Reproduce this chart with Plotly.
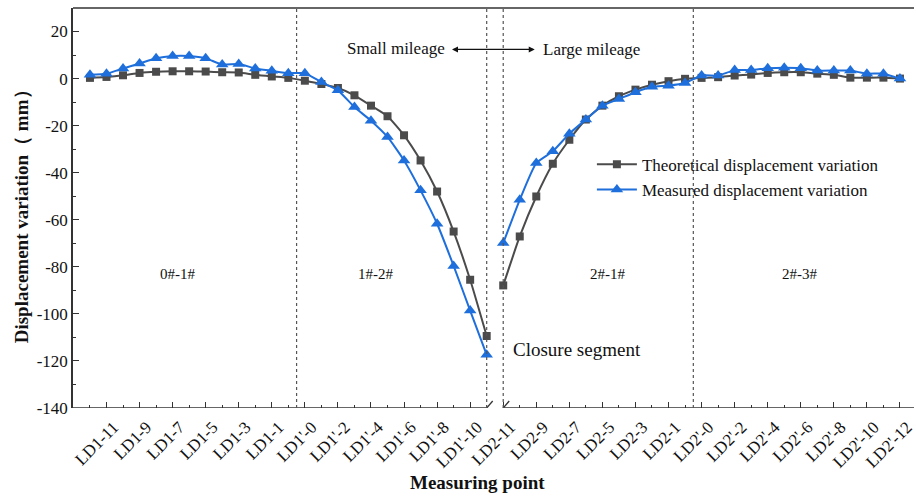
import plotly.graph_objects as go

# ---------------- data ----------------
points = ["LD1-12", "LD1-11", "LD1-10", "LD1-9", "LD1-8", "LD1-7", "LD1-6", "LD1-5", "LD1-4",
          "LD1-3", "LD1-2", "LD1-1", "LD1-0",
          "LD1'-0", "LD1'-1", "LD1'-2", "LD1'-3", "LD1'-4", "LD1'-5", "LD1'-6", "LD1'-7",
          "LD1'-8", "LD1'-9", "LD1'-10", "LD1'-11",
          "LD2-11", "LD2-10", "LD2-9", "LD2-8", "LD2-7", "LD2-6", "LD2-5", "LD2-4", "LD2-3",
          "LD2-2", "LD2-1", "LD2-0",
          "LD2'-0", "LD2'-1", "LD2'-2", "LD2'-3", "LD2'-4", "LD2'-5", "LD2'-6", "LD2'-7",
          "LD2'-8", "LD2'-9", "LD2'-10", "LD2'-11", "LD2'-12"]
n_left = 25  # points before the axis break (closure segment)

theoretical = [0.3, 0.7, 1.4, 2.4, 2.9, 3.1, 3.1, 3.0, 2.7, 2.6, 1.6, 0.9, 0.3,
               -0.9, -2.3, -4.0, -7.1, -11.5, -16.0, -24.1, -34.8, -48.0, -65.0, -85.5, -109.4,
               -87.9, -67.1, -50.1, -36.2, -26.0, -17.4, -11.5, -7.5, -4.7, -2.6, -1.1, -0.1,
               0.3, 0.6, 1.3, 1.7, 2.4, 2.7, 2.7, 2.1, 1.6, 0.4, 0.4, 0.4, 0.0]
measured = [1.6, 2.1, 4.3, 6.4, 8.6, 9.6, 9.6, 8.6, 6.0, 6.2, 4.3, 3.3, 2.3,
            2.3, -1.5, -5.0, -12.1, -17.9, -24.8, -34.8, -47.5, -61.7, -79.6, -98.6, -117.4,
            -69.9, -51.5, -35.9, -30.9, -23.4, -17.4, -11.5, -8.7, -5.8, -3.5, -3.0, -1.9,
            1.3, 1.3, 3.6, 3.6, 4.4, 4.6, 4.4, 3.4, 3.4, 3.4, 2.1, 2.1, 0.0]

tick_labels = ["LD1-11", "LD1-9", "LD1-7", "LD1-5", "LD1-3", "LD1-1",
               "LD1'-0", "LD1'-2", "LD1'-4", "LD1'-6", "LD1'-8", "LD1'-10",
               "LD2-11", "LD2-9", "LD2-7", "LD2-5", "LD2-3", "LD2-1",
               "LD2'-0", "LD2'-2", "LD2'-4", "LD2'-6", "LD2'-8", "LD2'-10", "LD2'-12"]
y_ticks = [20, 0, -20, -40, -60, -80, -100, -120, -140]
y_tick_text = ["20", "0", "-20", "-40", "-60", "-80", "-100", "-120", "-140"]
y_minor = [30, 10, -10, -30, -50, -70, -90, -110, -130]

region_labels = ["0#-1#", "1#-2#", "2#-1#", "2#-3#"]
region_x = [5.3, 17.3, 31.3, 42.9]
region_bounds = [12.5, 36.5]

GRAY = "#4b4b4b"
BLUE = "#1e6fdc"
FONT = "Liberation Serif, Times New Roman, serif"

idx = list(range(len(points)))
pos = {p: i for i, p in enumerate(points)}
major_vals = [pos[t] for t in tick_labels]
minor_vals = [i for i in idx if i not in major_vals]
xr = [-1.026, 49.85]
yr = [-140, 30]

fig = go.Figure()
series = [("Theoretical displacement variation", theoretical, GRAY, "square", 8),
          ("Measured displacement variation", measured, BLUE, "triangle-up", 11)]
for name, vals, col, sym, sz in series:
    for k, (a, b) in enumerate([(0, n_left), (n_left, len(points))]):
        fig.add_trace(go.Scatter(
            x=idx[a:b], y=vals[a:b], mode="lines+markers", name=name,
            legendgroup=name, showlegend=(k == 0),
            line=dict(color=col, width=2, shape="spline", smoothing=0.5),
            marker=dict(symbol=sym, size=sz, color=col)))

shapes = []
shapes.append(dict(type="line", xref="paper", yref="paper", x0=0, x1=1, y0=1, y1=1,
                   line=dict(color="#333", width=1.5)))
brk_l, brk_r = n_left - 1, n_left
shapes.append(dict(type="line", xref="x", yref="y", x0=xr[0], x1=brk_l, y0=yr[0], y1=yr[0],
                   line=dict(color="#333", width=1.5)))
shapes.append(dict(type="line", xref="x", yref="y", x0=brk_r, x1=xr[1], y0=yr[0], y1=yr[0],
                   line=dict(color="#333", width=1.5)))
for bx in (brk_l, brk_r):
    shapes.append(dict(type="line", xref="x", yref="y", xsizemode="pixel", ysizemode="pixel",
                       xanchor=bx, yanchor=yr[0], x0=-6, x1=6, y0=-7, y1=7,
                       line=dict(color="#333", width=1.3)))
for bx in region_bounds + [brk_l, brk_r]:
    shapes.append(dict(type="line", xref="x", yref="paper", x0=bx, x1=bx, y0=0, y1=1,
                       line=dict(color="#555", width=1.2, dash="dot")))

annotations = []
for t, x in zip(region_labels, region_x):
    annotations.append(dict(x=x, y=-83, xref="x", yref="y", text=t, showarrow=False,
                            xanchor="center", yanchor="middle",
                            font=dict(family=FONT, size=15, color="#111")))
annotations += [
    dict(x=21.6, y=13.0, xref="x", yref="y", text="Small mileage", showarrow=False,
         xanchor="right", yanchor="middle", font=dict(family=FONT, size=17, color="#111")),
    dict(x=27.3, y=12.2, xref="x", yref="y", text="Large mileage", showarrow=False,
         xanchor="left", yanchor="middle", font=dict(family=FONT, size=17, color="#111")),
    dict(x=21.9, y=12.4, ax=27.0, ay=12.4, xref="x", yref="y", axref="x", ayref="y",
         text="", showarrow=True, arrowhead=2, arrowside="end+start", arrowsize=1,
         arrowwidth=1.2, arrowcolor="#111"),
    dict(x=25.45, y=-115.3, xref="x", yref="y", text="Closure segment", showarrow=False,
         xanchor="left", yanchor="middle", font=dict(family=FONT, size=19, color="#111")),
    dict(x=-0.0615, y=0.49, xref="paper", yref="paper",
         text="<b>Displacement variation（ mm）</b>", xanchor="center", yanchor="middle",
         textangle=-90, showarrow=False, font=dict(family=FONT, size=19, color="#111")),
    dict(x=0.481, y=-0.185, xref="paper", yref="paper", text="<b>Measuring point</b>",
         xanchor="center", yanchor="middle",
         showarrow=False, font=dict(family=FONT, size=19, color="#111")),
]

fig.update_layout(
    width=916, height=498,
    margin=dict(l=73, r=0, t=8, b=90),
    paper_bgcolor="white", plot_bgcolor="white",
    font=dict(family=FONT, size=16, color="#111"),
    shapes=shapes, annotations=annotations,
    legend=dict(x=0.617, y=0.653, xanchor="left", yanchor="top", bgcolor="rgba(0,0,0,0)",
                font=dict(family=FONT, size=17), itemwidth=40, tracegroupgap=0),
    xaxis=dict(range=xr, showgrid=False, zeroline=False, showline=False,
               tickmode="array", tickvals=major_vals, ticktext=tick_labels,
               tickangle=-45, ticks="inside", ticklen=6, tickwidth=1.2, tickcolor="#333",
               ticklabelshift=7, ticklabelstandoff=5, ticklabeloverflow="allow",
               minor=dict(tickmode="array", tickvals=minor_vals, ticks="inside",
                          ticklen=3, tickwidth=1.2, tickcolor="#333"),
               tickfont=dict(family=FONT, size=17)),
    yaxis=dict(range=yr, showgrid=False, zeroline=False, showline=True, linecolor="#333",
               linewidth=1.5, tickmode="array", tickvals=y_ticks, ticktext=y_tick_text,
               ticks="inside", ticklen=6, tickwidth=1.2, tickcolor="#333",
               minor=dict(tickmode="array", tickvals=y_minor, ticks="inside", ticklen=3,
                          tickwidth=1.2, tickcolor="#333"),
               tickfont=dict(family=FONT, size=17)),
)

fig.write_html("out.html")
